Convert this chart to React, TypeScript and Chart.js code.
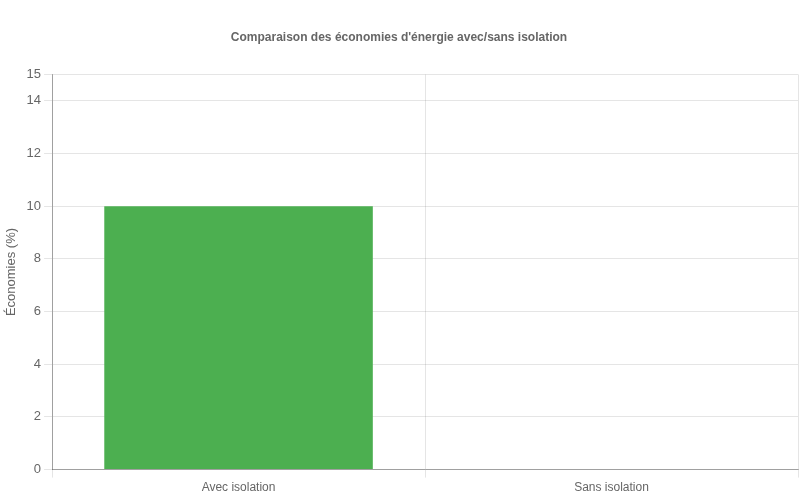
import React, { useEffect, useRef } from 'react';
import Chart from 'chart.js/auto';

const categories = ['Avec isolation', 'Sans isolation'];
const savings = [10, 0];
const barColors = ['#4CAF50', '#4CAF50'];

const App = () => {
  const chartRef = useRef<HTMLCanvasElement>(null);
  const chartInstance = useRef<Chart | null>(null);

  useEffect(() => {
    document.body.style.margin = '0';
    if (chartInstance.current) {
      chartInstance.current.destroy();
    }
    const ctx = chartRef.current?.getContext('2d');
    if (ctx) {
      Chart.defaults.font.family = '"Liberation Sans", Arial, sans-serif';
      Chart.defaults.color = '#666';
      chartInstance.current = new Chart(ctx, {
        type: 'bar',
        data: {
          labels: categories,
          datasets: [{
            label: 'Économies (%)',
            data: savings,
            backgroundColor: barColors,
            borderWidth: 0,
          }],
        },
        options: {
          animation: false,
          responsive: true,
          maintainAspectRatio: false,
          layout: { padding: { top: 10, right: 2, bottom: 2, left: 0 } },
          scales: {
            x: {
              grid: { color: 'rgba(0,0,0,0.1)' },
              border: { color: 'rgba(0,0,0,0.3)' },
              ticks: { color: '#666', font: { size: 12 } },
            },
            y: {
              min: 0,
              max: 15,
              grid: { color: 'rgba(0,0,0,0.1)' },
              border: { color: 'rgba(0,0,0,0.3)' },
              ticks: { stepSize: 2, color: '#666', font: { size: 13 } },
              title: {
                display: true,
                text: 'Économies (%)',
                color: '#666',
                font: { size: 13 },
                padding: { top: 4, bottom: 4 },
              },
            },
          },
          plugins: {
            legend: { display: false },
            title: {
              display: true,
              text: "Comparaison des économies d'énergie avec/sans isolation",
              color: '#666',
              font: { size: 12, weight: 'bold' },
              padding: { top: 20, bottom: 30 },
            },
          },
        },
      });
    }
    return () => {
      if (chartInstance.current) {
        chartInstance.current.destroy();
        chartInstance.current = null;
      }
    };
  }, []);

  return (
    <div style={{ width: '800px', height: '500px', position: 'relative' }}>
      <canvas ref={chartRef} />
    </div>
  );
};

export default App;
